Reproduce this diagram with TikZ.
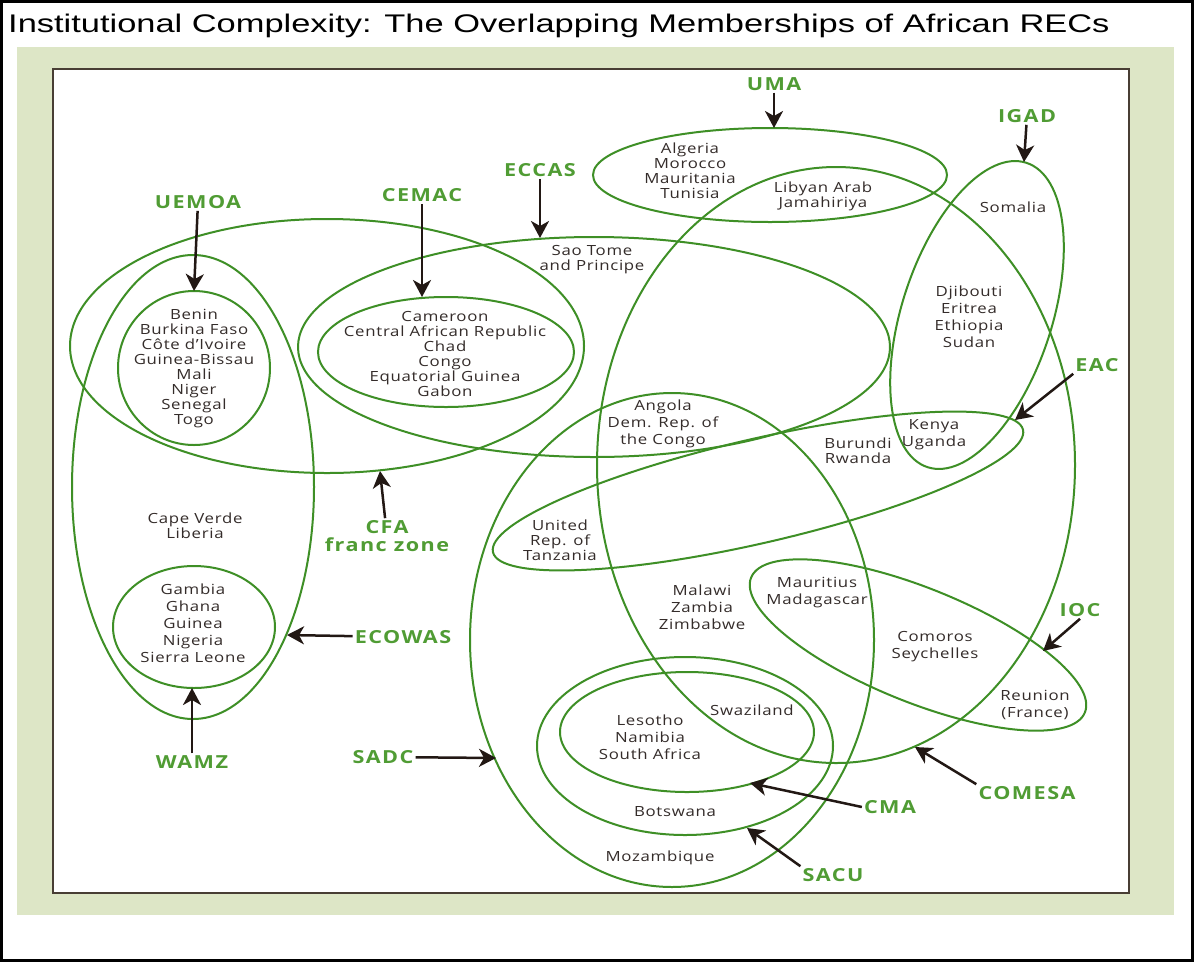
\documentclass[tikz,border=0pt]{standalone}
\usepackage{fontspec}
\usetikzlibrary{arrows.meta}
\newfontfamily\headfont{Liberation Sans}[FakeStretch=1.35]
\newfontfamily\landfont{Open Sans}[FakeStretch=1.2,LetterSpace=5]
\newfontfamily\tagfont{Open Sans}[FakeStretch=1.2,LetterSpace=8]
\definecolor{panel}{RGB}{221,230,198}
\definecolor{framecol}{RGB}{72,62,52}
\definecolor{recline}{RGB}{62,143,38}
\definecolor{taggreen}{RGB}{80,156,52}
\definecolor{landtext}{RGB}{52,44,42}
\definecolor{ptrcol}{RGB}{34,24,20}
\begin{document}
\begin{tikzpicture}[x=1pt,y=-1pt,
    rec/.style={draw=recline,line width=2pt},
    land/.style={align=center,text=landtext,inner sep=0pt,font=\landfont\fontsize{14}{15}\selectfont},
    loose/.style={font=\landfont\fontsize{14}{17}\selectfont},
    tag/.style={align=center,text=taggreen,inner sep=2pt,font=\tagfont\bfseries\fontsize{18}{16}\selectfont},
    ptr/.style={draw=ptrcol,line width=2.5pt,-{Stealth[length=17pt,width=18pt,inset=5pt]}}]
  \useasboundingbox (0,0) rectangle (1194,962);
  \draw[line width=3pt] (1.5,1.5) rectangle (1192.5,960.5);
  \fill[panel] (17,47) rectangle (1174,915);
  \filldraw[fill=white,draw=framecol,line width=1.5pt] (53,69) rectangle (1129,893);
  \node[anchor=base west,inner sep=0pt,font=\headfont\fontsize{25.5}{26}\selectfont] (title) at (8,32)
    {Institutional Complexity: The Overlapping Memberships of African RECs};

  % west and central
  \draw[rec] (327,346) ellipse (257 and 127);
  \draw[rec] (193,487) ellipse (121 and 232);
  \draw[rec] (194,368) ellipse (76 and 77);
  \draw[rec] (194,627) ellipse (81 and 61);
  \draw[rec] (446,352) ellipse (128 and 55);
  \draw[rec] (594,347) ellipse (296 and 110);
  % north and east
  \draw[rec] (770,175) ellipse (177 and 47);
  \draw[rec] (836,465) ellipse (239 and 298);
  \draw[rec,rotate around={72:(977,315)}] (977,315) ellipse (160 and 75);
  \draw[rec,rotate around={13:(758,491)}] (758,491) ellipse (272 and 52);
  \draw[rec,rotate around={-22:(918,645)}] (918,645) ellipse (180 and 57);
  % south
  \draw[rec] (672,640) ellipse (202 and 247);
  \draw[rec] (685,746) ellipse (148 and 89);
  \draw[rec] (687,732) ellipse (127 and 60);

  \node[land] (uemoaC) at (194,369) {Benin\\Burkina Faso\\Côte d’Ivoire\\Guinea-Bissau\\Mali\\Niger\\Senegal\\Togo};
  \node[land] (cemacC) at (445,354) {Cameroon\\Central African Republic\\Chad\\Congo\\Equatorial Guinea\\Gabon};
  \node[land] (saotome) at (592,260) {Sao Tome\\and Principe};
  \node[land] (umaC) at (690,171) {Algeria\\Morocco\\Mauritania\\Tunisia};
  \node[land] (libya) at (823,196) {Libyan Arab\\Jamahiriya};
  \node[land] (somalia) at (1013,207) {Somalia};
  \node[land,loose] (igadC) at (969,317) {Djibouti\\Eritrea\\Ethiopia\\Sudan};
  \node[land,loose] (kenya) at (934,435) {Kenya\\Uganda};
  \node[land] (burundi) at (858,451) {Burundi\\Rwanda};
  \node[land,loose] (angola) at (663,424) {Angola\\Dem. Rep. of\\the Congo};
  \node[land] (tanzania) at (560,540) {United\\Rep. of\\Tanzania};
  \node[land,loose] (malawi) at (702,607) {Malawi\\Zambia\\Zimbabwe};
  \node[land,loose] (mauritius) at (817,593) {Mauritius\\Madagascar};
  \node[land,loose] (comoros) at (935,647) {Comoros\\Seychelles};
  \node[land,loose] (reunion) at (1035,705) {Reunion\\(France)};
  \node[land] (swazi) at (752,710) {Swaziland};
  \node[land,loose] (cmaC) at (650,737) {Lesotho\\Namibia\\South Africa};
  \node[land] (botswana) at (675,812) {Botswana};
  \node[land] (mozambique) at (660,858) {Mozambique};
  \node[land] (capeverde) at (195,526) {Cape Verde\\Liberia};
  \node[land,loose] (wamzC) at (193,623) {Gambia\\Ghana\\Guinea\\Nigeria\\Sierra Leone};

  \node[tag] (uemoa) at (198,202) {UEMOA};
  \node[tag] (cemac) at (422,195) {CEMAC};
  \node[tag] (eccas) at (540,170) {ECCAS};
  \node[tag] (uma) at (774,84) {UMA};
  \node[tag] (igad) at (1027,116) {IGAD};
  \node[tag] (eac) at (1097,365) {EAC};
  \node[tag] (ioc) at (1080,610) {IOC};
  \node[tag] (comesa) at (1027,793) {COMESA};
  \node[tag] (cma) at (890,807) {CMA};
  \node[tag] (sacu) at (833,875) {SACU};
  \node[tag] (sadc) at (383,757) {SADC};
  \node[tag] (wamz) at (192,762) {WAMZ};
  \node[tag] (ecowas) at (403,637) {ECOWAS};
  \node[tag,font=\tagfont\bfseries\fontsize{18}{18}\selectfont] (cfa) at (387,536) {CFA\\franc zone};

  \coordinate (uemoaTip) at (194,291);
  \coordinate (cemacTip) at (422,297);
  \coordinate (eccasTip) at (540,238);
  \coordinate (umaTip) at (774,128);
  \coordinate (igadTip) at (1024,162);
  \coordinate (eacTip) at (1015,420);
  \coordinate (iocTip) at (1043,651);
  \coordinate (comesaTip) at (915,747);
  \coordinate (cmaTip) at (750,783);
  \coordinate (sacuTip) at (747,828);
  \coordinate (sadcTip) at (496,758);
  \coordinate (wamzTip) at (192,688);
  \coordinate (ecowasTip) at (287,635);
  \coordinate (cfaTip) at (380,471);

  \draw[ptr] (uemoa) -- (uemoaTip);
  \draw[ptr] (cemac) -- (cemacTip);
  \draw[ptr] (eccas) -- (eccasTip);
  \draw[ptr] (uma) -- (umaTip);
  \draw[ptr] (igad) -- (igadTip);
  \draw[ptr] (eac.south west) -- (eacTip);
  \draw[ptr] (ioc.south) -- (iocTip);
  \draw[ptr] (comesa.north west) -- (comesaTip);
  \draw[ptr] (cma.west) -- (cmaTip);
  \draw[ptr] (sacu.north west) -- (sacuTip);
  \draw[ptr] (sadc) -- (sadcTip);
  \draw[ptr] (wamz) -- (wamzTip);
  \draw[ptr] (ecowas) -- (ecowasTip);
  \draw[ptr] (cfa) -- (cfaTip);
\end{tikzpicture}
\end{document}
